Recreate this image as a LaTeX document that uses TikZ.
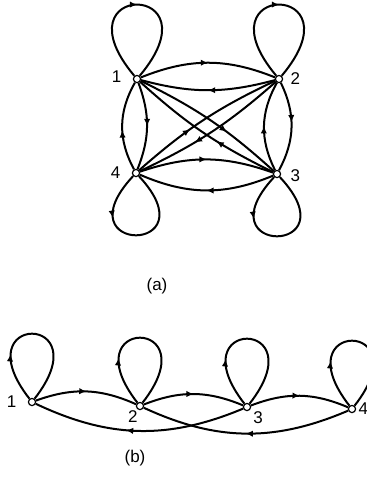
\documentclass[tikz,border=0pt]{standalone}
\usepackage{fontspec}
\setmainfont{Liberation Sans}
\usetikzlibrary{arrows.meta,positioning,decorations.markings}
\tikzset{
  vert/.style={circle, draw=black, fill=white, line width=0.6pt,
               minimum size=3.6pt, inner sep=0pt},
  lbl/.style={font=\fontsize{8.5}{10}\selectfont, inner sep=0.5pt},
  caption/.style={font=\fontsize{8.5}{10}\selectfont, inner sep=0pt},
  wire/.style={line width=1pt, draw=black},
  midarrow/.style={postaction={decorate}, decoration={markings,
      mark=at position #1 with {\arrow{Latex[length=3.6pt,width=3.2pt]}}}},
  midarrow/.default=0.5
}
\begin{document}
\begin{tikzpicture}[x=0.5pt,y=0.5pt]
  \useasboundingbox (0,0) rectangle (366,-479);

  % (a)
  \node[vert] (a1) at (137,-79) {};
  \node[vert] (a2) at (279,-79) {};
  \node[vert] (a3) at (277,-174) {};
  \node[vert] (a4) at (136,-173) {};
  \node[lbl,left=5pt of a1,yshift=1pt] (la1) {1};
  \node[lbl,right=3pt of a2] (la2) {2};
  \node[lbl,right=4pt of a3,yshift=-1pt] (la3) {3};
  \node[lbl,left=5pt of a4] (la4) {4};

  \draw[wire,midarrow] (a1) to[out=130,in=50,min distance=62pt] (a1);
  \draw[wire,midarrow] (a2) to[out=130,in=50,min distance=62pt] (a2);
  \draw[wire,midarrow=0.3] (a4) to[out=-133,in=-47,min distance=54pt] (a4);
  \draw[wire,midarrow=0.3] (a3) to[out=-133,in=-47,min distance=54pt] (a3);

  \draw[wire,midarrow] (a1) to[bend left=22] (a2);
  \draw[wire,midarrow] (a2) to[bend left=15] (a1);
  \draw[wire,midarrow] (a4) to[bend left=19] (a3);
  \draw[wire,midarrow] (a3) to[bend left=23] (a4);
  \draw[wire,midarrow] (a1) to[bend left=21] (a4);
  \draw[wire,midarrow=0.45] (a4) to[bend left=29] (a1);
  \draw[wire,midarrow=0.45] (a2) to[bend left=27] (a3);
  \draw[wire,midarrow] (a3) to[bend left=28] (a2);
  \draw[wire,midarrow=0.62] (a1) to[bend left=8] (a3);
  \draw[wire,midarrow=0.4] (a3) to[bend left=8] (a1);
  \draw[wire,midarrow=0.4] (a4) to[bend left=8] (a2);
  \draw[wire,midarrow=0.62] (a2) to[bend left=8] (a4);

  \node[caption] (capa) at (157,-286) {(a)};

  % (b)
  \node[vert] (b1) at (32,-402) {};
  \node[vert] (b2) at (140,-406) {};
  \node[vert] (b3) at (247,-407) {};
  \node[vert] (b4) at (352,-409) {};
  \node[lbl,left=5pt of b1] (lb1) {1};
  \node[lbl,below left=0pt and -1pt of b2] (lb2) {2};
  \node[lbl,below right=0pt and 1pt of b3] (lb3) {3};
  \node[lbl,right=0.5pt of b4] (lb4) {4};

  \foreach \n in {b1,b2,b3,b4} {
    \draw[wire,midarrow=0.3] (\n) to[out=128,in=52,min distance=55pt] (\n);
  }
  \foreach \s/\t in {b1/b2,b2/b3,b3/b4} {
    \draw[wire,midarrow] (\s) to[bend left=22] (\t);
  }
  \draw[wire,midarrow=0.56] (b3) to[bend left=24] (b1);
  \draw[wire,midarrow] (b4) to[bend left=24] (b2);

  \node[caption] (capb) at (135,-458) {(b)};
\end{tikzpicture}
\end{document}
